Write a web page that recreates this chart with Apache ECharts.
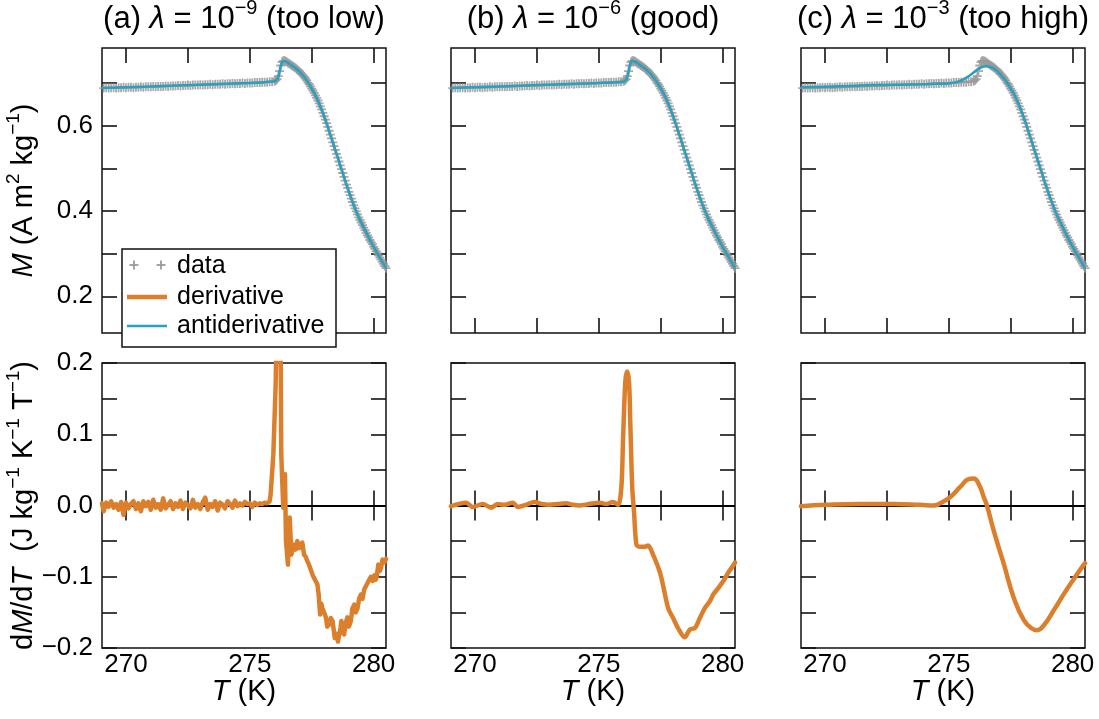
<!DOCTYPE html>
<html><head><meta charset="utf-8">
<script src="https://cdn.jsdelivr.net/npm/echarts@6.0.0/dist/echarts.min.js"></script>
<style>html,body{margin:0;padding:0;background:#fff}#c{width:1099px;height:719px}</style>
</head><body><div id="c"></div>
<script>
// ---------------- data ----------------
const panelTitles = ['(a) {i|λ} = 10{s|−9} (too low)', '(b) {i|λ} = 10{s|−6} (good)', '(c) {i|λ} = 10{s|−3} (too high)'];
const legendNames = ['data', 'derivative', 'antiderivative'];
const xTicks = [270, 272.5, 275, 277.5, 280];
const xTickLabels = [270, 275, 280];
const mTicks = [0.2, 0.3, 0.4, 0.5, 0.6, 0.7];
const mTickLabels = [0.2, 0.4, 0.6];
const dTicks = [-0.2, -0.15, -0.1, -0.05, 0, 0.05, 0.1, 0.15, 0.2];
const dTickLabels = [-0.2, -0.1, 0, 0.1, 0.2];

// measured magnetisation (gray + markers)
const dataT = [
269.0,269.1,269.2,269.3,269.4,269.5,269.6,269.7,269.8,269.9,
270.0,270.1,270.2,270.3,270.4,270.5,270.6,270.7,270.8,270.9,
271.0,271.1,271.2,271.3,271.4,271.5,271.6,271.7,271.8,271.9,
272.0,272.1,272.2,272.3,272.4,272.5,272.6,272.7,272.8,272.9,
273.0,273.1,273.2,273.3,273.4,273.5,273.6,273.7,273.8,273.9,
274.0,274.1,274.2,274.3,274.4,274.5,274.6,274.7,274.8,274.9,
275.0,275.1,275.2,275.3,275.4,275.5,275.6,275.7,275.8,275.9,
276.00,276.05,276.10,276.15,276.20,276.25,276.30,276.35,276.40,276.45,
276.50,276.55,276.60,276.65,276.70,276.75,276.80,276.85,276.90,276.95,
277.00,277.05,277.10,277.15,277.20,277.25,277.30,277.35,277.40,277.45,
277.50,277.55,277.60,277.65,277.70,277.75,277.80,277.85,277.90,277.95,
278.00,278.05,278.10,278.15,278.20,278.25,278.30,278.35,278.40,278.45,
278.50,278.55,278.60,278.65,278.70,278.75,278.80,278.85,278.90,278.95,
279.00,279.05,279.10,279.15,279.20,279.25,279.30,279.35,279.40,279.45,
279.50,279.55,279.60,279.65,279.70,279.75,279.80,279.85,279.90,279.95,
280.00,280.05,280.10,280.15,280.20,280.25,280.30,280.35,280.40,280.45,280.50];
const dataM = [
0.688,0.688,0.689,0.688,0.689,0.689,0.688,0.689,0.689,0.690,
0.689,0.690,0.690,0.689,0.690,0.690,0.691,0.690,0.691,0.691,
0.691,0.692,0.691,0.692,0.692,0.692,0.693,0.692,0.693,0.693,
0.693,0.694,0.693,0.694,0.694,0.695,0.694,0.695,0.695,0.695,
0.696,0.695,0.696,0.696,0.697,0.696,0.697,0.697,0.697,0.698,
0.697,0.698,0.698,0.699,0.698,0.699,0.699,0.700,0.699,0.700,
0.700,0.700,0.701,0.701,0.701,0.702,0.702,0.702,0.703,0.703,
0.704,0.706,0.709,0.716,0.728,0.741,0.749,0.752,0.752,0.751,
0.749,0.747,0.745,0.743,0.741,0.739,0.737,0.735,0.732,0.730,
0.727,0.724,0.721,0.718,0.714,0.710,0.706,0.701,0.697,0.692,
0.687,0.682,0.677,0.671,0.665,0.659,0.652,0.645,0.638,0.630,
0.622,0.614,0.606,0.597,0.588,0.579,0.570,0.561,0.552,0.543,
0.534,0.525,0.516,0.507,0.498,0.489,0.480,0.471,0.462,0.454,
0.445,0.437,0.429,0.421,0.413,0.406,0.399,0.392,0.385,0.379,
0.373,0.367,0.361,0.355,0.349,0.343,0.338,0.332,0.327,0.322,
0.316,0.311,0.306,0.301,0.296,0.291,0.286,0.281,0.276,0.271,0.266];

// antiderivatives (blue lines)
const antiAB_T = [269.03,270,271,272,273,274,275,275.5,276.0,276.1,276.15,276.2,276.25,276.3,276.35,276.4,276.5,276.6,276.8,277.0,277.2,277.4,277.6,277.8,278.0,278.2,278.4,278.6,278.8,279.0,279.2,279.4,279.6,279.8,280.0,280.2,280.4,280.5];
const antiA_M = [0.688,0.690,0.692,0.694,0.696,0.698,0.700,0.701,0.704,0.708,0.713,0.725,0.740,0.749,0.752,0.752,0.749,0.745,0.737,0.727,0.714,0.697,0.677,0.652,0.622,0.588,0.552,0.516,0.480,0.445,0.413,0.385,0.361,0.338,0.316,0.296,0.276,0.266];
const antiB_M = [0.688,0.690,0.692,0.694,0.696,0.698,0.700,0.701,0.703,0.707,0.713,0.726,0.741,0.749,0.752,0.751,0.749,0.745,0.737,0.727,0.714,0.697,0.677,0.652,0.622,0.588,0.552,0.516,0.480,0.445,0.413,0.385,0.361,0.338,0.316,0.296,0.276,0.266];
const antiC_T = [269.03,270,271,272,273,274,274.5,275.0,275.3,275.6,275.9,276.1,276.3,276.5,276.7,276.9,277.1,277.3,277.5,277.7,277.9,278.1,278.3,278.5,278.7,278.9,279.1,279.3,279.5,279.7,279.9,280.1,280.3,280.5];
const antiC_M = [0.690,0.691,0.693,0.695,0.696,0.697,0.698,0.699,0.702,0.709,0.720,0.729,0.736,0.739,0.737,0.731,0.719,0.705,0.687,0.666,0.639,0.607,0.572,0.536,0.500,0.464,0.430,0.400,0.374,0.350,0.327,0.306,0.286,0.266];

// derivatives (orange lines)
const derivA_T = [269.03,
269.1,269.2,269.3,269.4,269.5,269.6,269.7,269.8,269.9,
270.0,270.1,270.2,270.3,270.4,270.5,270.6,270.7,270.8,270.9,
271.0,271.1,271.2,271.3,271.4,271.5,271.6,271.7,271.8,271.9,
272.0,272.1,272.2,272.3,272.4,272.5,272.6,272.7,272.8,272.9,
273.0,273.1,273.2,273.3,273.4,273.5,273.6,273.7,273.8,273.9,
274.0,274.1,274.2,274.3,274.4,274.5,274.6,274.7,274.8,274.9,
275.0,275.1,275.2,275.3,275.4,275.5,275.6,275.7,275.8,
275.84,275.95,276.04,276.08,276.13,276.2,276.24,276.27,276.35,276.42,
276.46,276.54,276.61,276.68,276.74,276.79,276.85,276.92,276.99,277.06,
277.12,277.19,277.26,277.32,277.39,277.46,277.53,277.6,277.66,277.73,
277.78,277.84,277.89,277.93,278.0,278.07,278.13,278.2,278.27,278.34,
278.39,278.43,278.5,278.56,278.61,278.66,278.7,278.75,278.81,278.87,
278.94,279.0,279.08,279.14,279.22,279.28,279.35,279.42,279.49,279.55,
279.62,279.69,279.75,279.82,279.89,279.96,280.03,280.09,280.14,280.19,
280.25,280.3,280.36,280.43,280.5];
const derivA = [
0.003,-0.008,0.004,-0.002,0.006,-0.003,0.002,-0.006,0.005,-0.013,
0.004,-0.004,0.002,0.006,-0.005,0.003,-0.008,0.006,-0.001,0.005,
-0.006,0.008,-0.003,0.002,-0.006,0.010,-0.004,0.001,0.006,-0.005,
0.003,-0.002,0.007,-0.005,0.004,0.000,-0.004,0.008,-0.003,0.002,
-0.005,0.005,0.011,-0.006,0.002,-0.002,0.006,-0.007,0.004,0.001,
-0.004,0.006,0.002,-0.003,0.007,-0.001,0.003,0.000,0.005,0.002,
0.003,-0.002,0.004,0.001,0.003,0.002,0.004,0.003,0.006,
0.015,0.072,0.165,0.240,0.310,0.290,0.250,0.072,-0.003,0.044,
-0.050,-0.083,-0.017,-0.069,-0.058,-0.055,-0.062,-0.050,-0.060,-0.059,
-0.052,-0.069,-0.072,-0.078,-0.083,-0.090,-0.097,-0.102,-0.106,-0.111,
-0.125,-0.153,-0.138,-0.144,-0.150,-0.157,-0.170,-0.167,-0.158,-0.162,
-0.175,-0.186,-0.180,-0.191,-0.190,-0.172,-0.162,-0.178,-0.181,-0.165,
-0.157,-0.170,-0.162,-0.145,-0.139,-0.150,-0.144,-0.130,-0.125,-0.131,
-0.118,-0.120,-0.109,-0.111,-0.100,-0.106,-0.098,-0.104,-0.096,-0.083,
-0.092,-0.087,-0.076,-0.080,-0.075];
const derivB_T = [269.03,269.64,269.91,270.31,270.65,270.92,271.2,271.53,271.73,272.06,272.4,272.7,273.01,273.35,273.68,273.95,274.22,274.6,275.03,275.3,275.57,275.78,275.91,275.98,276.07,276.14,276.22,276.27,276.35,276.42,276.52,276.65,276.86,276.99,277.19,277.46,277.62,277.8,278.0,278.2,278.47,278.68,278.88,279.08,279.28,279.49,279.62,279.82,280.03,280.23,280.43,280.5];
const derivB = [-0.001,0.004,-0.002,0.002,-0.003,0.002,0.001,0.004,-0.002,0.001,0.005,0.002,0.001,0.002,0.003,0.001,0.000,0.002,0.004,0.002,0.005,0.001,0.025,0.094,0.174,0.188,0.174,0.118,0.025,-0.008,-0.055,-0.058,-0.058,-0.056,-0.069,-0.093,-0.116,-0.144,-0.158,-0.172,-0.185,-0.174,-0.172,-0.158,-0.144,-0.134,-0.125,-0.116,-0.106,-0.094,-0.084,-0.080];
const derivC_T = [269.03,270.07,271.42,272.77,273.84,274.38,274.65,275.06,275.46,275.8,276.0,276.21,276.41,276.54,276.81,277.22,277.62,278.03,278.37,278.57,278.84,279.24,279.65,280.05,280.43,280.5];
const derivC = [-0.001,0.001,0.002,0.002,0.001,0.000,0.003,0.012,0.026,0.037,0.038,0.030,0.012,0.000,-0.035,-0.082,-0.129,-0.161,-0.173,-0.175,-0.168,-0.147,-0.124,-0.103,-0.084,-0.081];

// ---------------- chart ----------------
const zip = (a, b) => a.map((v, i) => [v, b[i]]);
const FONT = 'Liberation Sans';
const ORANGE = '#dc7f2c', BLUE = '#2aa0bf', GRAY = '#9a9a9a', INK = '#111111';
const TICK_FS = 26, TITLE_FS = 31, AX_FS = 29, LEG_FS = 25;
const X_MIN = 269.03, X_MAX = 280.5;
const lefts = [102, 451, 801];
const W = 284, H = 285, TOP1 = 48, TOP2 = 363;

const grids = [];
for (let r = 0; r < 2; r++) for (let c = 0; c < 3; c++)
  grids.push({left: lefts[c], top: r ? TOP2 : TOP1, width: W, height: H, show: true,
    borderColor: INK, borderWidth: 1.5, backgroundColor: 'rgba(0,0,0,0)', containLabel: false});

const tickStyle = {color: INK, width: 1.6};
const xAxes = [], yAxes = [];
for (let g = 0; g < 6; g++) {
  const bottomRow = g >= 3, col = g % 3;
  ['bottom', 'top'].forEach(pos => xAxes.push({
    type: 'value', gridIndex: g, position: pos, min: X_MIN, max: X_MAX,
    axisLine: {show: false}, splitLine: {show: false},
    axisTick: {show: true, inside: true, length: 15, customValues: xTicks, lineStyle: tickStyle},
    axisLabel: {show: bottomRow && pos === 'bottom', customValues: xTickLabels, margin: 4,
      color: '#000', fontSize: TICK_FS, fontFamily: FONT, formatter: v => String(Math.round(v))}
  }));
  ['left', 'right'].forEach(pos => yAxes.push({
    type: 'value', gridIndex: g, position: pos,
    min: bottomRow ? -0.2 : 0.114, max: bottomRow ? 0.2 : 0.782,
    axisLine: {show: false}, splitLine: {show: false},
    axisTick: {show: true, inside: true, length: 15, customValues: bottomRow ? dTicks : mTicks, lineStyle: tickStyle},
    axisLabel: {show: col === 0 && pos === 'left', customValues: bottomRow ? dTickLabels : mTickLabels, margin: 9,
      color: '#000', fontSize: TICK_FS, fontFamily: FONT,
      formatter: v => (v < -1e-9 ? '\u2212' : '') + Math.abs(v).toFixed(1)}
  }));
}

const plus = 'path://M4,0h2v4h4v2h-4v4h-2v-4h-4v-2h4z';
const antiSets = [zip(antiAB_T, antiA_M), zip(antiAB_T, antiB_M), zip(antiC_T, antiC_M)];
const derivSets = [zip(derivA_T, derivA), zip(derivB_T, derivB), zip(derivC_T, derivC)];
const smooths = [false, 0.3, 0.5];
const series = [];
for (let c = 0; c < 3; c++) {
  series.push({name: legendNames[0], type: 'scatter', xAxisIndex: 2 * c, yAxisIndex: 2 * c,
    data: zip(dataT, dataM), symbol: plus, symbolSize: 9, itemStyle: {color: GRAY, opacity: 0.85}, z: 2, clip: true});
  series.push({name: legendNames[2], type: 'line', xAxisIndex: 2 * c, yAxisIndex: 2 * c,
    data: antiSets[c], showSymbol: false, symbol: 'none', smooth: smooths[c],
    lineStyle: {color: BLUE, width: 2.5}, z: 3, clip: true});
  const g = 3 + c;
  series.push({name: legendNames[1], type: 'line', xAxisIndex: 2 * g, yAxisIndex: 2 * g,
    data: derivSets[c], showSymbol: false, symbol: 'none', smooth: smooths[c],
    lineStyle: {color: ORANGE, width: 4.5, join: 'round', cap: 'round'}, z: 3, clip: true,
    markLine: {silent: true, z: 1, symbol: 'none', animation: false, label: {show: false},
      lineStyle: {color: '#000', width: 2, type: 'solid'}, data: [{yAxis: 0}]}});
}

function rich(fs) {
  const sfs = Math.round(fs * 0.66);
  return {
    i: {fontStyle: 'italic', fontSize: fs, fontFamily: FONT, lineHeight: Math.round(fs * 1.36), fill: '#000'},
    s: {fontSize: sfs, fontFamily: FONT, verticalAlign: 'top', lineHeight: sfs, fill: '#000'}
  };
}
function txt(x, y, text, fs, rot, align) {
  return {type: 'text', x: x, y: y, rotation: rot || 0, z: 100, silent: true,
    style: {text: text, fontSize: fs, fontFamily: FONT, fill: '#000', lineHeight: Math.round(fs * 1.36),
      align: align || 'center', verticalAlign: 'middle', rich: rich(fs)}};
}

const graphic = [];
for (let c = 0; c < 3; c++) {
  graphic.push(txt(lefts[c] + W / 2, 19, panelTitles[c], TITLE_FS));
  graphic.push(txt(lefts[c] + W / 2, 692, '{i|T} (K)', AX_FS));
}
graphic.push(txt(24, TOP1 + H / 2, '{i|M} (A m{s|2} kg{s|\u22121})', AX_FS, Math.PI / 2));
graphic.push(txt(24, TOP2 + H / 2, 'd{i|M}/d{i|T}  (J kg{s|\u22121} K{s|\u22121} T{s|\u22121})', AX_FS, Math.PI / 2));
// legend
graphic.push({type: 'rect', z: 99, silent: true, shape: {x: 122, y: 249, width: 214, height: 98},
  style: {fill: '#fff', stroke: INK, lineWidth: 1.5}});
[134, 161].forEach(cx => {
  graphic.push({type: 'line', z: 100, silent: true, shape: {x1: cx - 4.5, y1: 265, x2: cx + 4.5, y2: 265}, style: {stroke: GRAY, lineWidth: 1.8}});
  graphic.push({type: 'line', z: 100, silent: true, shape: {x1: cx, y1: 260.5, x2: cx, y2: 269.5}, style: {stroke: GRAY, lineWidth: 1.8}});
});
graphic.push({type: 'line', z: 100, silent: true, shape: {x1: 127, y1: 297, x2: 167, y2: 297}, style: {stroke: ORANGE, lineWidth: 4.5}});
graphic.push({type: 'line', z: 100, silent: true, shape: {x1: 127, y1: 326, x2: 167, y2: 326}, style: {stroke: BLUE, lineWidth: 2.5}});
[266, 297, 326].forEach((y, k) => graphic.push(txt(177, y, legendNames[k], LEG_FS, 0, 'left')));

const chart = echarts.init(document.getElementById('c'), null, {renderer: 'canvas'});
chart.setOption({
  animation: false,
  backgroundColor: '#fff',
  textStyle: {fontFamily: FONT},
  grid: grids, xAxis: xAxes, yAxis: yAxes, series: series, graphic: graphic
});
</script>
</body></html>
